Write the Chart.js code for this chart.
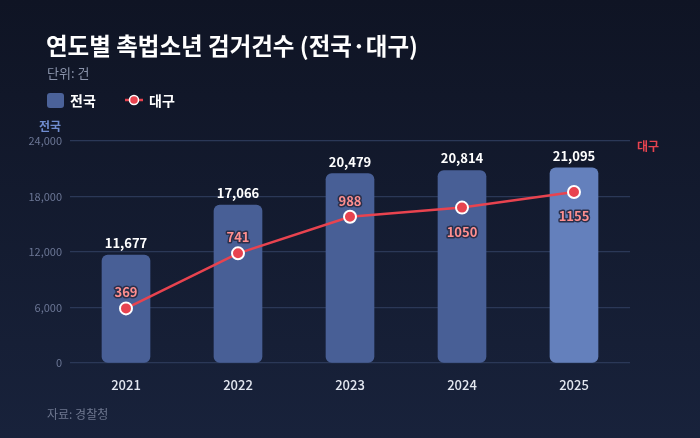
<!DOCTYPE html>
<html>
<head>
<meta charset="utf-8">
<script src="https://cdn.jsdelivr.net/npm/chart.js@4"></script>
<style>
  html, body { margin: 0; padding: 0; background: #131a2e; }
  #wrap { width: 700px; height: 438px; position: relative; }
</style>
</head>
<body>
<div id="wrap"><canvas id="myChart" width="700" height="438"></canvas></div>
<script>
const years = ["2021", "2022", "2023", "2024", "2025"];
const national = [11677, 17066, 20479, 20814, 21095];
const daegu = [369, 741, 988, 1050, 1155];
const leftTicks = [0, 6000, 12000, 18000, 24000];
const daeguLabelBelow = [false, false, false, true, true];

const KR = "'Noto Sans CJK KR', 'Noto Sans', sans-serif";

const barColors = national.map((v, i) => i === national.length - 1 ? "#6480bc" : "#485f96");

const decor = {
  id: "decor",
  beforeDraw(chart) {
    const c = chart.ctx;
    const g = c.createLinearGradient(0, 0, 0, chart.height);
    g.addColorStop(0, "#0f1424");
    g.addColorStop(1, "#18223b");
    c.save();
    c.fillStyle = g;
    c.fillRect(0, 0, chart.width, chart.height);
    c.restore();
  },
  afterDraw(chart) {
    const c = chart.ctx;
    c.save();
    c.textBaseline = "middle";
    // title
    c.fillStyle = "#ffffff";
    c.font = "bold 23.5px " + KR;
    c.textAlign = "left";
    c.fillText("연도별 촉법소년 검거건수 (전국·대구)", 46, 46);
    c.fillStyle = "#8a93aa";
    c.font = "13px " + KR;
    c.fillText("단위: 건", 47, 73);

    // legend
    c.fillStyle = "#4b6299";
    c.beginPath();
    c.roundRect(47, 93, 17, 15, 3);
    c.fill();
    c.fillStyle = "#ffffff";
    c.font = "bold 14px " + KR;
    c.fillText("전국", 70, 101);
    c.strokeStyle = "#e8434f";
    c.lineWidth = 2.5;
    c.beginPath();
    c.moveTo(125, 100);
    c.lineTo(143, 100);
    c.stroke();
    c.beginPath();
    c.arc(134, 100, 4.5, 0, Math.PI * 2);
    c.fillStyle = "#e8434f";
    c.fill();
    c.strokeStyle = "#ffffff";
    c.lineWidth = 1.5;
    c.stroke();
    c.fillStyle = "#ffffff";
    c.fillText("대구", 149, 101);

    // axis titles
    c.font = "bold 12px " + KR;
    c.fillStyle = "#6f8cd0";
    c.textAlign = "center";
    c.fillText("전국", 50, 126);
    c.fillStyle = "#e8434f";
    c.fillText("대구", 648, 146);

    // source
    c.textAlign = "left";
    c.font = "12px " + KR;
    c.fillStyle = "#6e778f";
    c.fillText("자료: 경찰청", 47, 414);

    // bar labels
    const barMeta = chart.getDatasetMeta(0);
    c.textAlign = "center";
    c.font = "bold 13px " + KR;
    c.fillStyle = "#ffffff";
    barMeta.data.forEach((el, i) => {
      c.fillText(national[i].toLocaleString("en-US"), el.x, el.y - 12);
    });

    // line labels
    const lineMeta = chart.getDatasetMeta(1);
    c.font = "bold 13px " + KR;
    c.lineJoin = "round";
    lineMeta.data.forEach((el, i) => {
      const y = daeguLabelBelow[i] ? el.y + 24 : el.y - 16;
      c.strokeStyle = "#2a2f4a";
      c.lineWidth = 3;
      c.strokeText(String(daegu[i]), el.x, y);
      c.fillStyle = "#ff8f8f";
      c.fillText(String(daegu[i]), el.x, y);
    });
    c.restore();
  }
};

new Chart(document.getElementById("myChart"), {
  data: {
    labels: years,
    datasets: [
      {
        type: "bar",
        label: "전국",
        data: national,
        backgroundColor: barColors,
        borderRadius: 6,
        borderSkipped: false,
        barThickness: 48,
        yAxisID: "y",
        order: 2,
      },
      {
        type: "line",
        label: "대구",
        data: daegu,
        borderColor: "#e8434f",
        borderWidth: 2.5,
        pointRadius: 6,
        pointBackgroundColor: "#e8434f",
        pointBorderColor: "#ffffff",
        pointBorderWidth: 2,
        tension: 0,
        yAxisID: "y1",
        order: 1,
      },
    ],
  },
  options: {
    responsive: false,
    animation: false,
    layout: { padding: { top: 141, bottom: 0, left: 0, right: 0 } },
    plugins: {
      legend: { display: false },
      tooltip: { enabled: false },
    },
    scales: {
      x: {
        grid: { display: false },
        border: { display: false },
        ticks: { color: "#e3e7f0", font: { family: KR, size: 13, weight: "500" }, padding: 6 },
        afterFit(axis) { axis.height = 75; },
      },
      y: {
        position: "left",
        min: 0,
        max: 24000,
        afterBuildTicks(axis) { axis.ticks = leftTicks.map(v => ({ value: v })); },
        grid: { color: "#2b3857", lineWidth: 1.2, drawTicks: false },
        border: { display: false },
        ticks: {
          color: "#6b7695",
          font: { family: KR, size: 11 },
          padding: 8,
          callback: v => v.toLocaleString("en-US"),
        },
        afterFit(axis) { axis.width = 70; },
      },
      y1: {
        position: "right",
        min: 0,
        max: 1500,
        grid: { display: false },
        border: { display: false },
        ticks: { display: false },
        afterFit(axis) { axis.width = 70; },
      },
    },
  },
  plugins: [decor],
});
</script>
</body>
</html>
